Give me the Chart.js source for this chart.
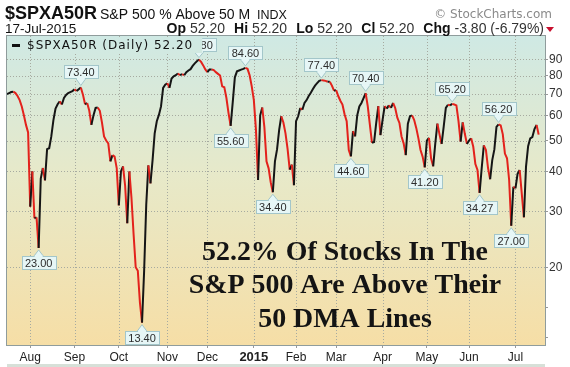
<!DOCTYPE html>
<html><head><meta charset="utf-8">
<script src="https://cdn.jsdelivr.net/npm/chart.js@4.4.1/dist/chart.umd.min.js"></script>
<style>html,body{margin:0;padding:0;background:#fff}canvas{display:block}</style>
</head><body>
<canvas id="c" width="570" height="367"></canvas>
<script>
// ---- DATA ----
// daily % of S&P 500 stocks above 50-day MA, 17-Jul-2014 .. 17-Jul-2015 (trading days)
const julValues14 = [70, 70.5, 71, 71.2, 70.5, 69, 67, 64, 60, 56, 53];
const augValues = [31, 40, 28.5, 28.7, 23.0, 38, 41, 37.5, 47, 47.3, 51.5, 58, 63, 65, 66.4, 64.9, 68, 69.5, 70.5, 71, 71.5];
const sepValues = [72.4, 71.5, 72.5, 73.4, 69.7, 65, 65.6, 62, 56, 60, 63.3, 63.5, 62, 57, 51.5, 50, 49, 43, 45, 44.5, 41];
const octValues = [31.3, 40, 41.5, 36, 27.5, 40, 33, 25.4, 20, 19.5, 15.5, 13.4, 19.5, 31.5, 41.8, 36.7, 43.4, 52.7, 57.5, 60.2, 64, 73.2, 74.9];
const novValues = [75.7, 73.2, 78.3, 79.6, 80.2, 81.2, 80.2, 80.8, 80.2, 82, 83, 83.8, 85.8, 87.4, 88.7, 89.8, 88.3, 86.1, 83.6];
const decValues = [82, 83.6, 83.6, 83.2, 82, 81, 80, 74, 73.5, 68, 61, 55.6, 66, 79, 82.5, 83, 83.5, 84, 84.6, 84, 80.2, 74];
const janValues = [67, 54, 37.6, 60, 63.5, 55, 43, 40.9, 37, 34.4, 43, 46.9, 54, 59.6, 57, 52.7, 47, 40.5, 42, 36.2];
const febValues = [57.5, 59.6, 63.3, 62.5, 65.6, 67, 69, 70.6, 72.6, 74.4, 75.7, 77, 77.4, 77.2, 77, 76.5, 76.5, 74.4, 71.7];
const marValues = [72, 69, 66.7, 64.9, 60.5, 57.5, 46.7, 44.6, 53.5, 51.5, 60, 64, 65.6, 68, 70.4, 64, 56, 49.2, 49.5, 56.8, 64.1, 52];
const aprValues = [58, 64.1, 63, 64.5, 63.3, 65.6, 63.3, 59, 56.8, 51.5, 49, 45, 56.5, 59.6, 60, 58, 54.7, 50.8, 46.7, 44.5, 41.2];
const mayValues = [50, 51, 44, 41.5, 49, 56.5, 52.3, 48.8, 55.4, 63.3, 64.8, 64.5, 65.2, 64.9, 64.5, 57.5, 49.6, 57, 52.5, 48.8];
const junValues = [50, 50.8, 47.8, 42.2, 40.4, 34.27, 41, 48.3, 46.7, 41, 37.8, 43.4, 46.9, 55.2, 56.2, 55.8, 52.3, 45.5, 44, 37.6, 27.0, 35.8];
const julValues15 = [35.4, 39.3, 40.4, 34, 28.7, 41.4, 48, 50.8, 51.3, 54.3, 56.0, 52.2];

const values = [].concat(julValues14, augValues, sepValues, octValues, novValues, decValues,
  janValues, febValues, marValues, aprValues, mayValues, junValues, julValues15);

const monthLabels = ['Aug','Sep','Oct','Nov','Dec','2015','Feb','Mar','Apr','May','Jun','Jul'];
const monthStartIdx = [11, 32, 53, 76, 95, 117, 137, 156, 178, 199, 219, 241];

const yTicks = [12, 15, 20, 30, 40, 50, 60, 70, 80, 90];
const yTickLabels = ['', '', '20', '30', '40', '50', '60', '70', '80', '90'];

const annIdx  = [35, 15, 64, 91, 113, 106, 126, 149, 163, 170, 198, 211, 224, 233, 239];
const annText = ['73.40','23.00','13.40','89.80','84.60','55.60','34.40','77.40','44.60','70.40','41.20','65.20','34.27','56.20','27.00'];
const annAbove = [true,false,false,true,true,false,false,true,false,true,false,true,false,true,false];

const titleSymbol = '$SPXA50R';
const titleName = 'S&P 500 % Above 50 M';
const titleExch = 'INDX';
const dateText = '17-Jul-2015';
const ohlc = [['Op','52.20'],['Hi','52.20'],['Lo','52.20'],['Cl','52.20'],['Chg','-3.80 (-6.79%)']];
const legendText = '$SPXA50R (Daily) 52.20';
const noteLines = ['52.2% Of Stocks In The', 'S&P 500 Are Above Their', '50 DMA Lines'];

// ---- DRAWING ----
const RED = '#e3221c', BLACK = '#151515';
function makeGrad(ctx, a){
  const g = ctx.createLinearGradient(0, a.top, 0, a.bottom);
  g.addColorStop(0, '#cfe9e4');
  g.addColorStop(0.45, '#e7e9c9');
  g.addColorStop(1, '#f6dea6');
  return g;
}

const deco = {
  id: 'deco',
  beforeDraw(chart){
    const {ctx, chartArea: a} = chart;
    ctx.save();
    ctx.fillStyle = '#fff'; ctx.fillRect(0, 0, chart.width, chart.height);
    ctx.fillStyle = makeGrad(ctx, a);
    ctx.fillRect(a.left, a.top, a.right - a.left, a.bottom - a.top);
    ctx.fillStyle = '#d7e0d8'; ctx.fillRect(a.left, 364, a.right - a.left, 3);
    ctx.strokeStyle = '#a6aaa0'; ctx.lineWidth = 1; ctx.setLineDash([1, 2]);
    const xs = chart.scales.x, ys = chart.scales.y;
    monthStartIdx.forEach(i => {
      const px = Math.round(xs.getPixelForValue(i)) + 0.5;
      ctx.beginPath(); ctx.moveTo(px, a.top); ctx.lineTo(px, a.bottom); ctx.stroke();
    });
    yTicks.forEach((v, k) => {
      if (!yTickLabels[k]) return;
      const py = Math.round(ys.getPixelForValue(v)) + 0.5;
      ctx.beginPath(); ctx.moveTo(a.left, py); ctx.lineTo(a.right, py); ctx.stroke();
    });
    ctx.restore();
  },
  afterDatasetsDraw(chart){
    const {ctx, chartArea: a} = chart;
    const xs = chart.scales.x, ys = chart.scales.y;
    ctx.save();
    // note text
    ctx.fillStyle = '#141414'; ctx.textAlign = 'center'; ctx.textBaseline = 'alphabetic';
    let fs = 26;
    ctx.font = 'bold ' + fs + 'px "Liberation Serif"';
    const w2 = ctx.measureText(noteLines[1]).width;
    fs = fs * 313 / w2;
    ctx.font = 'bold ' + fs.toFixed(1) + 'px "Liberation Serif"';
    const base = [260, 293, 327];
    noteLines.forEach((t, i) => ctx.fillText(t, 345, base[i]));
    // annotations
    annIdx.forEach((idx, k) => {
      const px = xs.getPixelForValue(idx), py = ys.getPixelForValue(values[idx]);
      ctx.font = '11px "Liberation Sans"';
      const tw = ctx.measureText(annText[k]).width;
      const bw = Math.round(tw + 6), bh = 13;
      const bx = Math.round(px - bw / 2) + 0.5;
      const above = annAbove[k];
      const by = above ? Math.round(py - 9 - bh) + 0.5 : Math.round(py + 8) + 0.5;
      ctx.fillStyle = '#e6f6f6'; ctx.strokeStyle = '#a3c6ca'; ctx.lineWidth = 1;
      ctx.beginPath();
      if (above) { ctx.moveTo(px - 5, by + bh); ctx.lineTo(px, py - 2); ctx.lineTo(px + 5, by + bh); }
      else { ctx.moveTo(px - 5, by); ctx.lineTo(px, py + 2); ctx.lineTo(px + 5, by); }
      ctx.closePath(); ctx.fill(); ctx.stroke();
      ctx.fillRect(bx, by, bw, bh); ctx.strokeRect(bx, by, bw, bh);
      ctx.fillStyle = '#e6f6f6';
      if (above) ctx.fillRect(px - 4, by + bh - 1, 8, 2); else ctx.fillRect(px - 4, by - 1, 8, 2);
      ctx.fillStyle = '#2c2c2c'; ctx.textAlign = 'center'; ctx.textBaseline = 'middle';
      ctx.fillText(annText[k], px, by + bh / 2 + 0.5);
    });
    ctx.restore();
  },
  afterDraw(chart){
    const {ctx, chartArea: a} = chart;
    ctx.save();
    // legend
    ctx.font = '12px "DejaVu Sans"';
    ctx.letterSpacing = '1px';
    const lw = ctx.measureText(legendText).width;
    ctx.fillStyle = makeGrad(ctx, a);
    ctx.fillRect(24, 37, lw + 12, 16);
    ctx.fillStyle = '#111'; ctx.fillRect(12, 44, 8, 3);
    ctx.textAlign = 'left'; ctx.textBaseline = 'middle';
    ctx.fillText(legendText, 27, 46);
    ctx.letterSpacing = '0px';
    // frame
    ctx.strokeStyle = '#8f9c9c'; ctx.lineWidth = 1;
    ctx.strokeRect(a.left - 0.5, a.top - 0.5, a.right - a.left + 1, a.bottom - a.top + 1);
    // header line 1
    ctx.textBaseline = 'alphabetic'; ctx.textAlign = 'left'; ctx.fillStyle = '#111';
    ctx.font = 'bold 18px "Liberation Sans"';
    ctx.fillText(titleSymbol, 5, 19);
    ctx.font = '14px "Liberation Sans"';
    ctx.fillText(titleName, 100, 19);
    ctx.font = '12.5px "Liberation Sans"';
    ctx.fillText(titleExch, 257, 19);
    ctx.fillStyle = '#8a8a8a'; ctx.textAlign = 'right'; ctx.font = '12px "DejaVu Sans"';
    ctx.fillText('\u00A9 StockCharts.com', 552, 18);
    // header line 2
    ctx.fillStyle = '#111'; ctx.textAlign = 'left'; ctx.font = '13.5px "Liberation Sans"';
    ctx.fillText(dateText, 5, 33);
    const fB = 'bold 14px "Liberation Sans"', fN = '14px "Liberation Sans"';
    let tot = 0;
    ohlc.forEach((p, i) => {
      ctx.font = fB; tot += ctx.measureText(p[0]).width + 4;
      ctx.font = fN; tot += ctx.measureText(p[1]).width + (i < ohlc.length - 1 ? 9 : 0);
    });
    let x = 544 - tot;
    ohlc.forEach((p, i) => {
      ctx.font = fB; ctx.fillStyle = '#111'; ctx.fillText(p[0], x, 33); x += ctx.measureText(p[0]).width + 4;
      ctx.font = fN; ctx.fillStyle = '#333'; ctx.fillText(p[1], x, 33); x += ctx.measureText(p[1]).width + 9;
    });
    ctx.fillStyle = '#c8102e';
    ctx.beginPath(); ctx.moveTo(546, 27); ctx.lineTo(554, 27); ctx.lineTo(550, 32); ctx.closePath(); ctx.fill();
    ctx.restore();
  }
};

new Chart(document.getElementById('c'), {
  type: 'line',
  data: {
    datasets: [{
      data: values.map((v, i) => ({x: i, y: v})),
      borderWidth: 2,
      pointRadius: 0,
      tension: 0,
      borderColor: BLACK,
      segment: { borderColor: c => c.p1.parsed.y < c.p0.parsed.y ? RED : BLACK }
    }]
  },
  options: {
    responsive: false, animation: false, devicePixelRatio: 1,
    layout: { padding: { left: 7, top: 36, right: 0, bottom: 0 } },
    plugins: { legend: { display: false }, tooltip: { enabled: false } },
    scales: {
      x: {
        type: 'linear', min: 0, max: 255,
        afterBuildTicks: s => { s.ticks = monthStartIdx.map(v => ({value: v})); },
        afterFit: s => { s.height = 22; },
        grid: { drawOnChartArea: false, drawTicks: true, tickLength: 3, tickColor: '#999', tickBorderDash: [] },
        border: { display: false },
        ticks: {
          autoSkip: false, maxRotation: 0, padding: 2, color: '#222',
          callback: (v, i) => monthLabels[i],
          font: c => monthLabels[c.index] === '2015' ? {family: 'Liberation Sans', size: 13, weight: 'bold'} : {family: 'Liberation Sans', size: 12}
        }
      },
      y: {
        type: 'logarithmic', position: 'right', min: 11.4, max: 106.5,
        afterBuildTicks: s => { s.ticks = yTicks.map(v => ({value: v})); },
        afterFit: s => { s.width = 25; },
        grid: { drawOnChartArea: false, drawTicks: true, tickLength: 3, tickColor: '#999', tickBorderDash: [] },
        border: { display: false },
        ticks: { autoSkip: false, padding: 1, color: '#333', font: {family: 'Liberation Sans', size: 12},
          callback: (v, i) => yTickLabels[i] }
      }
    }
  },
  plugins: [deco]
});
</script>
</body></html>
